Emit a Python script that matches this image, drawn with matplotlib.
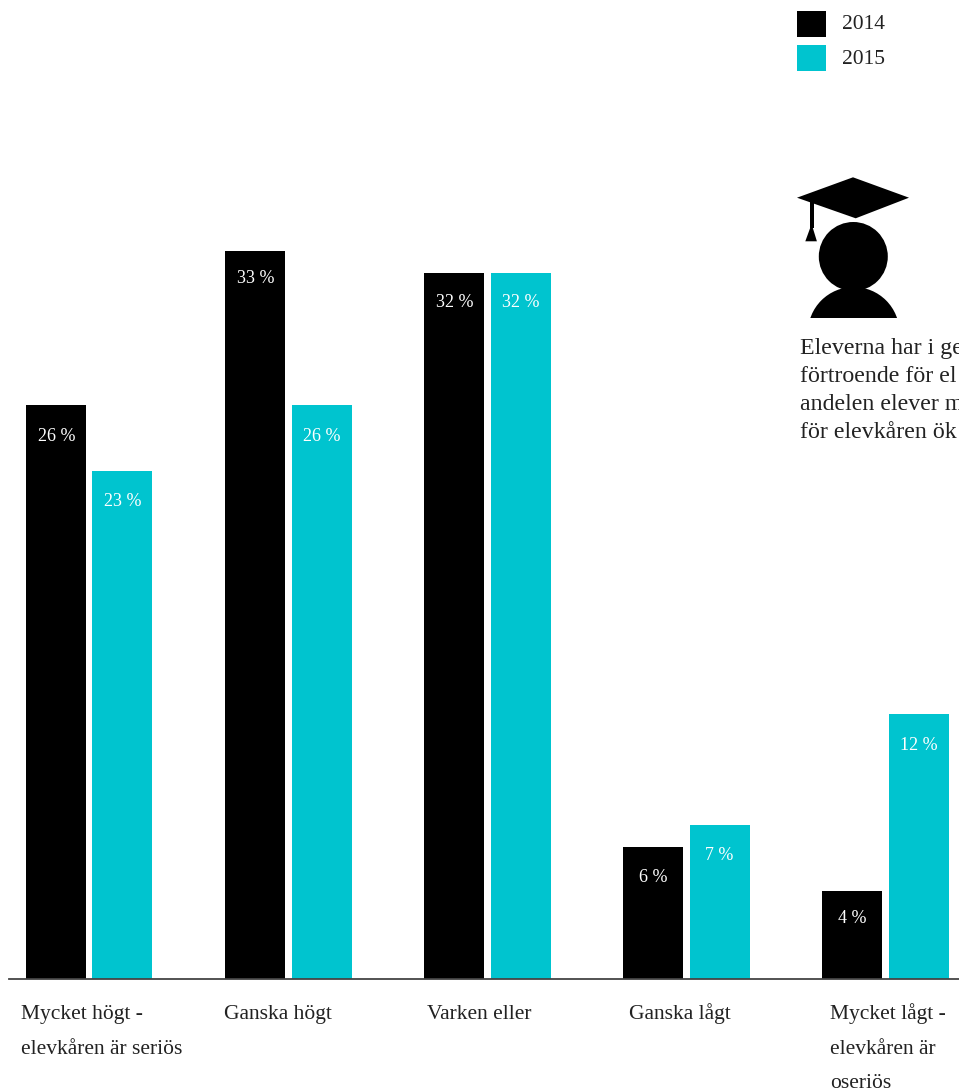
#!/usr/bin/env python
import matplotlib
matplotlib.use('Agg')
import matplotlib.pyplot as plt
import numpy as np
from matplotlib.patches import Polygon, Circle, Rectangle

#Chart data
categories = ['Mycket högt -\nelevkåren är seriös', 'Ganska högt', 'Varken eller',
              'Ganska lågt', 'Mycket lågt -\nelevkåren är\noseriös']
values_2014 = [26, 33, 32, 6, 4]
values_2015 = [23, 26, 32, 7, 12]
years = ['2014', '2015']
#only what can be read in the reference, the rest is cut off by the edge
note_lines = ['Eleverna har i ge', 'förtroende för el', 'andelen elever m', 'för elevkåren ök']

BLACK = '#000000'
CYAN = '#00C4CF'
W, H = 959, 1090
PX_PER_PCT = 22.07
PX_PER_CAT = 199.05

#how far the value label baseline sits below the bar top, in px
drop_2014 = [36, 32, 34, 35, 32]
drop_2015 = [35, 36, 34, 35, 36]

plt.rcParams['font.family'] = ['Liberation Serif', 'DejaVu Serif']

fig = plt.figure(figsize=(W / 100, H / 100), dpi=100, facecolor='white')

#bar axes, baseline at y=979 px
ax = fig.add_axes([9 / W, (H - 979) / H, 950 / W, 800 / H])
ax.set_xlim((9 - 89.25) / PX_PER_CAT, (959 - 89.25) / PX_PER_CAT)
ax.set_ylim(0, 800 / PX_PER_PCT)
ax.patch.set_alpha(0)
for s in ['top', 'left', 'right']:
    ax.spines[s].set_visible(False)
ax.spines['bottom'].set_color('#444444')
ax.spines['bottom'].set_linewidth(1.3)
ax.spines['bottom'].set_zorder(5)
ax.set_xticks([])
ax.set_yticks([])

x = np.arange(len(categories))
bar_w = 60 / PX_PER_CAT
bars1 = ax.bar(x - 33.0 / PX_PER_CAT, values_2014, bar_w, color=BLACK)
bars2 = ax.bar(x + 33.2 / PX_PER_CAT, values_2015, bar_w, color=CYAN)

#value labels inside the top of the bars
for bars, vals, drops in [(bars1, values_2014, drop_2014), (bars2, values_2015, drop_2015)]:
    for b, v, d in zip(bars, vals, drops):
        ax.annotate('%d %%' % v, (b.get_x() + b.get_width() / 2, v),
                    xytext=(0, -d * 0.72), textcoords='offset points',
                    ha='center', va='baseline', color='white', fontsize=13)

#overlay in pixel coordinates for legend, icon and text
ov = fig.add_axes([0, 0, 1, 1])
ov.set_xlim(0, W)
ov.set_ylim(H, 0)
ov.axis('off')
ov.patch.set_alpha(0)

#legend
for i, (yr, c) in enumerate(zip(years, [BLACK, CYAN])):
    ov.add_patch(Rectangle((797, 11 + 34 * i), 29, 26, color=c, lw=0))
    ov.text(842, 29 + 35 * i, yr, fontsize=15.5, va='baseline', color='#222222')

#graduate icon
ov.add_patch(Polygon([(797, 197.7), (853, 177.3), (909, 197.7), (855.7, 218.3)], color='black', lw=0))
ov.add_patch(Rectangle((810, 200), 4, 28, color='black', lw=0))
ov.add_patch(Polygon([(805.3, 241.3), (811.6, 224), (816.9, 241.3)], color='black', lw=0))
ov.add_patch(Circle((853.3, 256.5), 34.5, color='black', lw=0))
body = Circle((853.7, 332.8), 45.8, color='black', lw=0)
ov.add_patch(body)
body.set_clip_path(Rectangle((800, 280), 110, 37.5, transform=ov.transData))

#note text, runs off the right edge
for i, line in enumerate(note_lines):
    ov.text(800, 354.3 + 28 * i, line, fontsize=17.2, va='baseline', color='#222222', clip_on=True)

#category labels
label_x = [21, 224, 427, 629, 830]
for lx, cat in zip(label_x, categories):
    for i, line in enumerate(cat.split('\n')):
        ov.text(lx, 1019 + 34.5 * i, line, fontsize=15.5, va='baseline', color='#222222')

fig.savefig('out.png', dpi=100)
